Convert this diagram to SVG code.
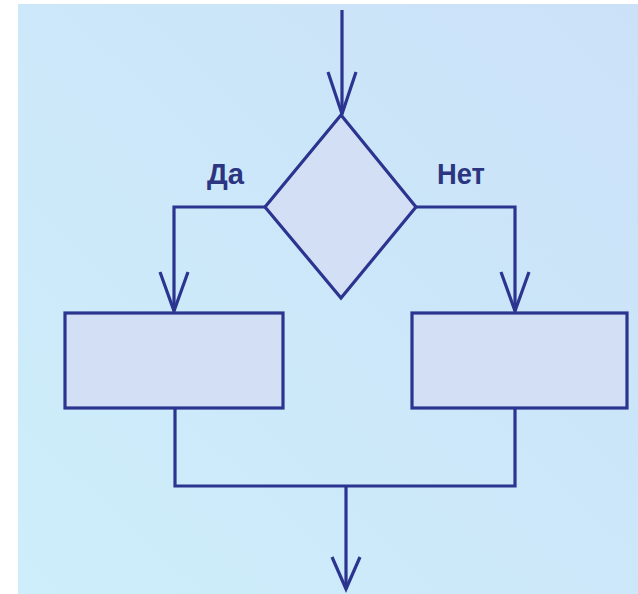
<svg xmlns="http://www.w3.org/2000/svg" width="638" height="594" viewBox="0 0 638 594">
<defs>
<linearGradient id="bg" x1="0" y1="1" x2="1" y2="0">
<stop offset="0" stop-color="#cdeefa"/>
<stop offset="1" stop-color="#cbe1f8"/>
</linearGradient>
<style>
.shape{fill:#d3dff5;stroke:#2b3590;stroke-width:3.2;stroke-linejoin:miter}
.line{fill:none;stroke:#2b3590;stroke-width:3.2}
.head{fill:none;stroke:#2b3590;stroke-width:3.2;stroke-linejoin:miter}
.lbl{font-family:"Liberation Sans",Arial,sans-serif;font-weight:bold;font-size:30px;fill:#2b3580}
</style>
</defs>
<rect width="638" height="594" fill="#ffffff"/>
<rect x="18" y="4" width="620" height="590" fill="url(#bg)"/>
<g id="connectors">
<path class="line" d="M342 10 V114"/>
<path class="head" d="M328 72 L342 114 L356 72"/>
<path class="line" d="M265 207 H174 V311"/>
<path class="head" d="M160 272 L174 311 L188 272"/>
<path class="line" d="M416 207 H515 V311"/>
<path class="head" d="M501 272 L515 311 L529 272"/>
<path class="line" d="M175 408 V486 H515 V408"/>
<path class="line" d="M346 486 V589"/>
<path class="head" d="M332 557 L346 589 L360 557"/>
</g>
<g id="decision">
<polygon class="shape" points="341,115 416,207 341,298 265,207"/>
</g>
<g id="label-yes"><text class="lbl" x="207" y="184" textLength="37" lengthAdjust="spacingAndGlyphs">Да</text></g>
<g id="label-no"><text class="lbl" x="437" y="184" textLength="48" lengthAdjust="spacingAndGlyphs">Нет</text></g>
<g id="process-left">
<rect class="shape" x="65" y="313" width="218" height="95"/>
</g>
<g id="process-right">
<rect class="shape" x="412" y="313" width="215" height="95"/>
</g>
</svg>
